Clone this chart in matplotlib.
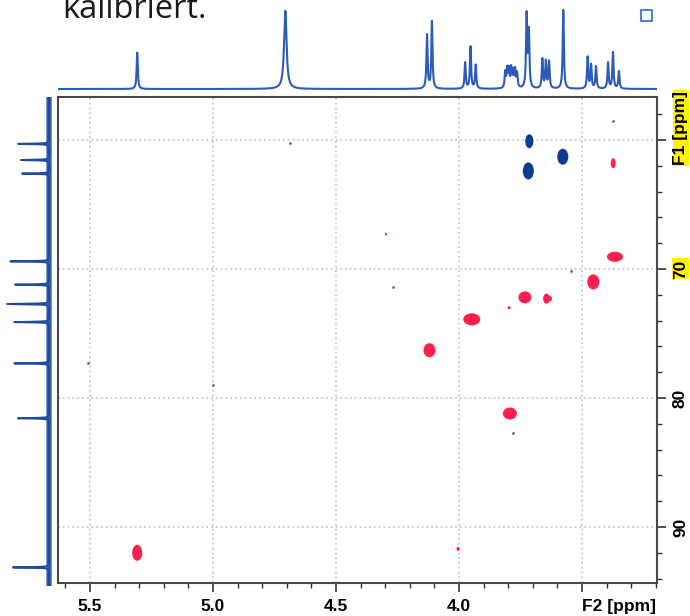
import numpy as np
import matplotlib.pyplot as plt
from matplotlib.patches import Ellipse, Rectangle

# 1H projection (top): shift [ppm], relative height, half width [ppm]
h_ppm = [5.308, 4.706, 4.130, 4.110, 3.975, 3.953, 3.932, 3.812, 3.804, 3.797, 3.788,
         3.780, 3.772, 3.764, 3.725, 3.716, 3.661, 3.647, 3.634, 3.576, 3.477, 3.463,
         3.443, 3.394, 3.374, 3.350]
h_int = [0.46, 0.99, 0.68, 0.85, 0.33, 0.53, 0.30, 0.20, 0.23, 0.22, 0.24,
         0.20, 0.22, 0.18, 0.92, 0.70, 0.37, 0.34, 0.34, 1.00, 0.40, 0.30,
         0.28, 0.33, 0.46, 0.22]
h_hw = [0.0028] * len(h_ppm)
h_hw[1] = 0.006

# 13C projection (left)
c_ppm = [60.3, 61.55, 62.6, 69.4, 71.2, 72.7, 74.1, 77.3, 81.55, 93.1]
c_int = [0.74, 0.67, 0.64, 0.93, 0.81, 1.0, 0.83, 0.83, 0.74, 0.86]

# HSQC cross peaks: F2, F1, width F2, width F1
red_f2 = [5.308, 4.120, 3.948, 3.732, 3.644, 3.628, 3.454, 3.366, 3.373, 3.793, 3.796, 4.004, 4.297]
red_f1 = [92.0, 76.3, 73.9, 72.2, 72.3, 72.3, 71.0, 69.05, 61.8, 81.2, 73.0, 91.7, 67.3]
red_w2 = [0.041, 0.049, 0.069, 0.053, 0.028, 0.012, 0.049, 0.065, 0.020, 0.057, 0.012, 0.012, 0.008]
red_w1 = [1.24, 1.09, 0.93, 0.93, 0.78, 0.39, 1.17, 0.78, 0.78, 0.93, 0.23, 0.31, 0.23]

blue_f2 = [3.714, 3.578, 3.718]
blue_f1 = [60.1, 61.3, 62.4]
blue_w2 = [0.033, 0.045, 0.045]
blue_w1 = [1.09, 1.24, 1.32]

noise_f2 = [4.687, 4.27, 5.51, 5.0, 3.546, 3.373, 3.78]
noise_f1 = [60.2, 71.4, 77.3, 79.0, 70.15, 58.5, 82.7]

f2_lim = (5.630, 3.195)
f1_lim = (94.34, 56.67)
f2_ticks = [5.5, 5.0, 4.5, 4.0, 3.5]
f2_labels = ['5.5', '5.0', '4.5', '4.0', 'F2 [ppm]']
f1_ticks = [60, 70, 80, 90]
f1_labels = ['', '70', '80', '90']

W, H = 690, 616
fig = plt.figure(figsize=(W / 100, H / 100), dpi=100)

def box(x0, y0, x1, y1):
    return [x0 / W, 1 - y1 / H, (x1 - x0) / W, (y1 - y0) / H]

tickfont = dict(family='Liberation Sans', weight='bold', size=12.5)
yellow = dict(facecolor='#fff200', edgecolor='none', pad=0.6)

# main 2D
ax = fig.add_axes(box(58, 97, 657, 583))
ax.set_xlim(*f2_lim)
ax.set_ylim(*f1_lim)
for v in f2_ticks:
    ax.axvline(v, color='#c8c8c8', ls=':', lw=1.3, zorder=0)
for v in f1_ticks:
    ax.axhline(v, color='#c8c8c8', ls=':', lw=1.3, zorder=0)

for x, y, w, h in zip(red_f2, red_f1, red_w2, red_w1):
    ax.add_patch(Ellipse((x, y), w, h, color='#fe1f4e', lw=0))
for x, y, w, h in zip(blue_f2, blue_f1, blue_w2, blue_w1):
    ax.add_patch(Ellipse((x, y), w, h, color='#0b3c8e', lw=0))
ax.scatter(noise_f2, noise_f1, s=4, color='#6a6a6a', lw=0)

ax.set_xticks(f2_ticks)
ax.set_xticklabels(f2_labels, fontdict=tickfont)
ax.set_xticks(np.arange(3.2, 5.65, 0.1), minor=True)
ax.xaxis.get_ticklabels()[-1].set_ha('left')
ax.yaxis.tick_right()
ax.set_yticks(f1_ticks)
ax.set_yticklabels(f1_labels, fontdict=tickfont, rotation=90, va='center')
ax.set_yticks(np.arange(58, 95, 2), minor=True)
ax.yaxis.get_ticklabels()[1].set_bbox(yellow)
ax.tick_params(which='major', length=6.5, width=1.2, color='#333333', pad=5)
ax.tick_params(which='minor', length=3.8, width=1.0, color='#333333')
for s in ax.spines.values():
    s.set_color('#4a4a40')
    s.set_linewidth(1.5)
fig.text(681 / W, 1 - 128 / H, 'F1 [ppm]', rotation=90, ha='center', va='center',
         bbox=yellow, **tickfont)

# top 1H projection
axt = fig.add_axes(box(58, 5, 657, 92))
x1 = np.linspace(f2_lim[0], f2_lim[1], 8000)
spec1 = np.zeros_like(x1)
for p, a, g in zip(h_ppm, h_int, h_hw):
    spec1 += a * g**2 / ((x1 - p)**2 + g**2)
axt.plot(x1, spec1, color='#2b5cb8', lw=1.5)
axt.set_xlim(*f2_lim)
axt.set_ylim(-0.038, 1.063)
axt.axis('off')

# left 13C projection
axl = fig.add_axes(box(0, 97, 57, 586))
y1 = np.linspace(f1_lim[1] - 0.3, f1_lim[0] + 0.3, 8000)
spec2 = np.zeros_like(y1)
for p, a in zip(c_ppm, c_int):
    spec2 += a * 0.025**2 / ((y1 - p)**2 + 0.025**2)
axl.plot(np.zeros_like(y1), y1, color='#2d5fb5', lw=3.8)
axl.plot(spec2, y1, color='#1f4a9e', lw=1.4)
axl.set_xlim(1.167, -0.19)
axl.set_ylim(f1_lim[0] + 0.2, f1_lim[1])
axl.axis('off')

# page fragments
fig.text(62 / W, 1 - 18.5 / H, 'kalibriert.', family='Open Sans', size=23.5,
         color='#1a1a1a', va='baseline', ha='left')
fig.add_artist(Rectangle((641 / W, 1 - 21 / H), 11 / W, 11 / H, transform=fig.transFigure,
                         fill=False, edgecolor='#2a6fd0', lw=1.2))

fig.savefig('out.png', dpi=100)
